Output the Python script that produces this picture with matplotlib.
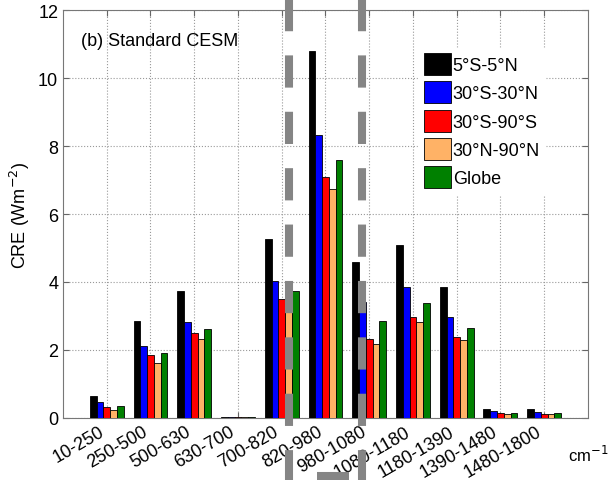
import numpy as np
import matplotlib
matplotlib.use('Agg')
import matplotlib.pyplot as plt
from matplotlib.lines import Line2D

plt.rcParams['font.family'] = ['Liberation Sans', 'DejaVu Sans']

bands = ['10-250', '250-500', '500-630', '630-700', '700-820', '820-980',
         '980-1080', '1080-1180', '1180-1390', '1390-1480', '1480-1800']
regions = ['5°S-5°N', '30°S-30°N', '30°S-90°S', '30°N-90°N', 'Globe']
colors = ['#000000', '#0000ff', '#ff0000', '#ffb266', '#008000']

cre_eq = [0.66, 2.84, 3.74, 0.03, 5.27, 10.79, 4.59, 5.08, 3.85, 0.27, 0.25]
cre_trop = [0.46, 2.11, 2.82, 0.03, 4.03, 8.31, 3.42, 3.85, 2.97, 0.20, 0.18]
cre_sh = [0.33, 1.84, 2.49, 0.02, 3.49, 7.08, 2.33, 2.97, 2.37, 0.16, 0.13]
cre_nh = [0.22, 1.63, 2.31, 0.02, 3.25, 6.74, 2.19, 2.82, 2.28, 0.13, 0.11]
cre_glob = [0.34, 1.92, 2.62, 0.02, 3.73, 7.59, 2.85, 3.37, 2.64, 0.16, 0.16]
series = [cre_eq, cre_trop, cre_sh, cre_nh, cre_glob]

fig = plt.figure(figsize=(6.08, 4.81), dpi=100)
ax = fig.add_axes([0.1036, 0.129, 0.8634, 0.848])

x = np.arange(1, len(bands) + 1)
w = 0.155
for k, (vals, c, lab) in enumerate(zip(series, colors, regions)):
    ax.bar(x + (k - 2) * w, vals, width=w, color=c, edgecolor='black',
           linewidth=0.6, label=lab, zorder=3)

ax.set_xlim(0, 12)
ax.set_ylim(0, 12)
ax.set_yticks([0, 2, 4, 6, 8, 10, 12])
ax.set_xticks(x)
ax.set_xticklabels(bands, rotation=30, ha='right', fontsize=13)
ax.tick_params(axis='y', labelsize=13)
ax.tick_params(direction='in', top=True, right=True, length=4, color='#666666')
ax.grid(True, linestyle=':', color='#999999', linewidth=0.8, zorder=0)
for s in ax.spines.values():
    s.set_color('#777777')

ax.set_ylabel('CRE (Wm$^{-2}$)', fontsize=13, labelpad=4)
ax.text(0.034, 0.925, '(b) Standard CESM', transform=ax.transAxes, fontsize=13,
        va='center', ha='left')
fig.text(568 / 608, 0.055, 'cm$^{-1}$', fontsize=12, ha='left', va='center')

leg = ax.legend(loc='upper left', bbox_to_anchor=(0.66, 0.93), fontsize=13,
                frameon=True, edgecolor='white', framealpha=1, fancybox=False,
                handlelength=1.5, handleheight=1.5, handletextpad=0.1,
                labelspacing=0.35, borderpad=0.3)

# gray dashed overlay lines
W, H = 608, 481
on, off = 4.0, 3.0
lw = 5.8
fig.add_artist(Line2D([289 / W, 289 / W], [1.0, 0.0], transform=fig.transFigure,
                      color='#858585', lw=lw, dashes=(on, off), zorder=10,
                      solid_capstyle='butt', dash_capstyle='butt'))
fig.add_artist(Line2D([362 / W, 362 / W], [1 + 14 / H, 0.0], transform=fig.transFigure,
                      color='#858585', lw=lw, dashes=(on, off), zorder=10,
                      solid_capstyle='butt', dash_capstyle='butt'))
fig.add_artist(Line2D([317 / W, 349 / W], [1 - 477 / H, 1 - 477 / H],
                      transform=fig.transFigure, color='#858585', lw=lw,
                      zorder=10, solid_capstyle='butt'))

fig.savefig('out.png', dpi=100)
